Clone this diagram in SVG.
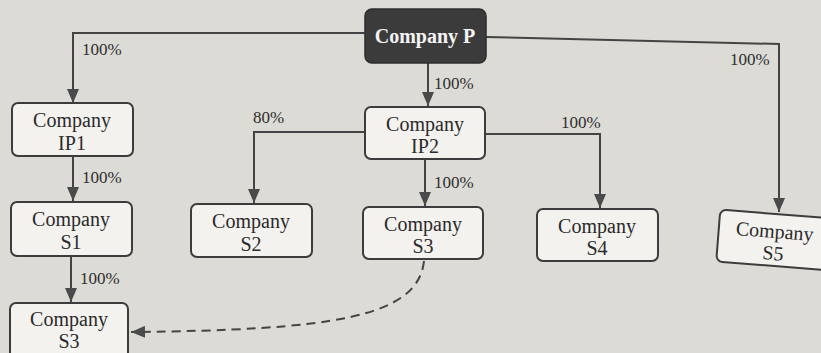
<svg xmlns="http://www.w3.org/2000/svg" width="821" height="353" viewBox="0 0 821 353">
<defs>
<style>
.bg{fill:#dcdbd6}
.box{fill:#f3f2ef;stroke:#3c3c3c;stroke-width:2}
.dark{fill:#3b3b3b;stroke:#2e2e2e;stroke-width:1.5}
.t{font-family:"Liberation Serif","Times New Roman",serif;font-size:20px;fill:#2a2a2a;text-anchor:middle}
.tw{font-family:"Liberation Serif","Times New Roman",serif;font-size:20px;font-weight:bold;fill:#f4f4f4;text-anchor:middle}
.lbl{font-family:"Liberation Serif","Times New Roman",serif;font-size:17px;fill:#2e2e2e}
.ln{fill:none;stroke:#444;stroke-width:2}
.dash{fill:none;stroke:#444;stroke-width:2;stroke-dasharray:9 6}
</style>
<marker id="ah" viewBox="0 0 14 12" refX="14" refY="6" markerWidth="14" markerHeight="12" markerUnits="userSpaceOnUse" orient="auto">
<path d="M0,0 L14,6 L0,12 z" fill="#4a4a4a"/>
</marker>
</defs>
<rect class="bg" x="0" y="0" width="821" height="353"/>
<g id="connectors">
<path class="ln" d="M365,33 L73,33 L73,103" marker-end="url(#ah)"/>
<path class="ln" d="M486,37 L779,44 L779,212" marker-end="url(#ah)"/>
<path class="ln" d="M428,63 L428,106" marker-end="url(#ah)"/>
<path class="ln" d="M73,156 L73,201" marker-end="url(#ah)"/>
<path class="ln" d="M71,256 L71,302" marker-end="url(#ah)"/>
<path class="ln" d="M365,132 L254,132 L254,203" marker-end="url(#ah)"/>
<path class="ln" d="M485,134 L600,134 L600,208" marker-end="url(#ah)"/>
<path class="ln" d="M425,159 L425,206" marker-end="url(#ah)"/>
<path class="dash" d="M424,261 C418,318 330,330 131,332" marker-end="url(#ah)"/>
<text class="lbl" x="82" y="55">100%</text>
<text class="lbl" x="730" y="65">100%</text>
<text class="lbl" x="434" y="89">100%</text>
<text class="lbl" x="253" y="123">80%</text>
<text class="lbl" x="561" y="128">100%</text>
<text class="lbl" x="82" y="183">100%</text>
<text class="lbl" x="434" y="188">100%</text>
<text class="lbl" x="80" y="284">100%</text>
</g>
<g id="P"><rect class="dark" x="365" y="9" width="121" height="54" rx="7"/><text class="tw" x="425" y="43">Company P</text></g>
<g id="IP1"><rect class="box" x="12" y="103" width="121" height="53" rx="6"/><text class="t" x="72" y="127">Company</text><text class="t" x="72" y="150">IP1</text></g>
<g id="IP2"><rect class="box" x="365" y="107" width="120" height="52" rx="6"/><text class="t" x="425" y="131">Company</text><text class="t" x="425" y="153">IP2</text></g>
<g id="S1"><rect class="box" x="11" y="202" width="121" height="54" rx="6"/><text class="t" x="71" y="226">Company</text><text class="t" x="71" y="249">S1</text></g>
<g id="S2"><rect class="box" x="191" y="204" width="121" height="53" rx="6"/><text class="t" x="251" y="228">Company</text><text class="t" x="251" y="251">S2</text></g>
<g id="S3b"><rect class="box" x="363" y="207" width="120" height="52" rx="6"/><text class="t" x="423" y="231">Company</text><text class="t" x="423" y="253">S3</text></g>
<g id="S4"><rect class="box" x="537" y="209" width="121" height="52" rx="6"/><text class="t" x="597" y="233">Company</text><text class="t" x="597" y="255">S4</text></g>
<g id="S5" transform="rotate(4.5 775 241)"><rect class="box" x="718" y="214" width="116" height="52" rx="6"/><text class="t" x="774" y="238">Company</text><text class="t" x="774" y="260">S5</text></g>
<g id="S3a"><rect class="box" x="10" y="303" width="118" height="56" rx="6"/><text class="t" x="69" y="326">Company</text><text class="t" x="69" y="348">S3</text></g>
</svg>
